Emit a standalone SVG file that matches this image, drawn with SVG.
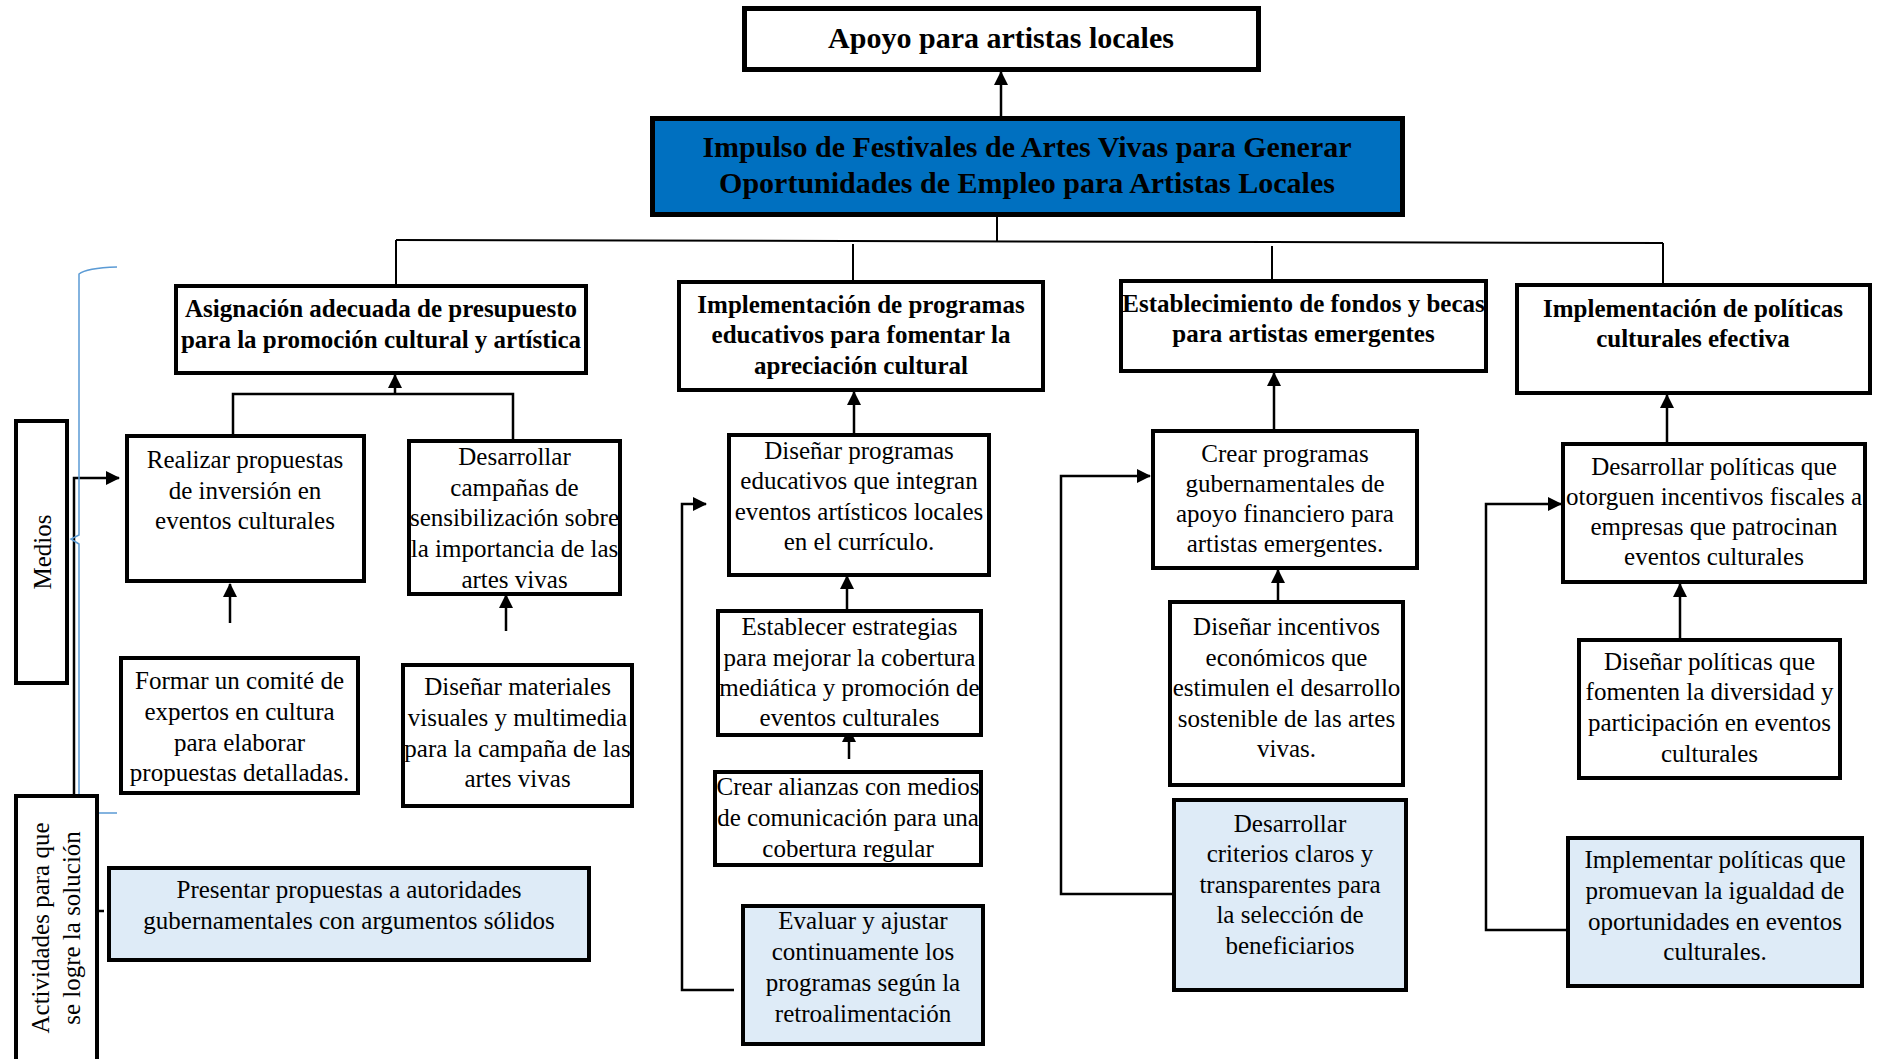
<svg xmlns="http://www.w3.org/2000/svg" width="1878" height="1059" viewBox="0 0 1878 1059">
<style>
.box{fill:#ffffff;stroke:#000000;stroke-width:4}
.act{fill:#deebf7;stroke:#000000;stroke-width:4}
.top{fill:#ffffff;stroke:#000000;stroke-width:5}
.core{fill:#0070c0;stroke:#000000;stroke-width:5}
.t{font-family:"Liberation Serif","Times New Roman",serif;font-size:25px;fill:#000;text-anchor:middle}
.b{font-family:"Liberation Serif","Times New Roman",serif;font-size:25px;font-weight:bold;fill:#000;text-anchor:middle}
.h{font-family:"Liberation Serif","Times New Roman",serif;font-size:30px;font-weight:bold;fill:#000;text-anchor:middle}
.c{fill:none;stroke:#000;stroke-width:2.5}
.thin{fill:none;stroke:#000;stroke-width:2}
.ar{fill:none;stroke:#000;stroke-width:2.5;marker-end:url(#ah)}
</style>
<defs>
<marker id="ah" markerUnits="userSpaceOnUse" markerWidth="14" markerHeight="14" refX="13" refY="7" orient="auto">
<path d="M0,0 L14,7 L0,14 z" fill="#000"/>
</marker>
</defs>
<rect x="0" y="0" width="1878" height="1059" fill="#ffffff"/>

<g id="connectors">
<line class="ar" x1="1001" y1="116" x2="1001" y2="72"/>
<line class="thin" x1="997" y1="217" x2="997" y2="242"/>
<line class="thin" x1="396" y1="240" x2="1663" y2="243"/>
<line class="thin" x1="396" y1="240" x2="396" y2="284"/>
<line class="thin" x1="853" y1="244" x2="853" y2="280"/>
<line class="thin" x1="1272" y1="246" x2="1272" y2="279"/>
<line class="thin" x1="1663" y1="243" x2="1663" y2="283"/>
<polyline class="c" points="233,434 233,394 513,394 513,439"/>
<line class="ar" x1="395" y1="394" x2="395" y2="375"/>
<line class="ar" x1="230" y1="623" x2="230" y2="584"/>
<line class="ar" x1="506" y1="631" x2="506" y2="595"/>
<polyline class="ar" points="74,794 74,478 119,478"/>
<line class="c" x1="99" y1="911" x2="104" y2="911"/>
<line class="ar" x1="854" y1="433" x2="854" y2="392"/>
<line class="ar" x1="847" y1="609" x2="847" y2="576"/>
<line class="ar" x1="849" y1="759" x2="849" y2="729"/>
<polyline class="ar" points="734,990 682,990 682,504 706,504"/>
<line class="ar" x1="1274" y1="429" x2="1274" y2="373"/>
<line class="ar" x1="1278" y1="600" x2="1278" y2="570"/>
<polyline class="ar" points="1172,894 1061,894 1061,476 1150,476"/>
<line class="ar" x1="1667" y1="442" x2="1667" y2="395"/>
<line class="ar" x1="1680" y1="640" x2="1680" y2="584"/>
<polyline class="ar" points="1571,930 1486,930 1486,504 1561,504"/>
<path d="M117,267 Q86,268 79,274 L79,535 L71,539 L79,544 L79,813 L117,813" fill="none" stroke="#5b9bd5" stroke-width="1.5"/>
</g>

<g id="apoyo"><rect class="top" x="744.5" y="8.5" width="514" height="61"/>
<text class="h" x="1001" y="48">Apoyo para artistas locales</text></g>

<g id="impulso"><rect class="core" x="652.5" y="118.5" width="750" height="96"/>
<text class="h" x="1027" y="157">Impulso de Festivales de Artes Vivas para Generar</text>
<text class="h" x="1027" y="193">Oportunidades de Empleo para Artistas Locales</text></g>

<g id="asignacion"><rect class="box" x="176" y="286" width="410" height="87"/>
<text class="b" x="381" y="317">Asignación adecuada de presupuesto</text>
<text class="b" x="381" y="348">para la promoción cultural y artística</text></g>

<g id="impl-prog"><rect class="box" x="679" y="282" width="364" height="108"/>
<text class="b" x="861" y="313">Implementación de programas</text>
<text class="b" x="861" y="343">educativos para fomentar la</text>
<text class="b" x="861" y="374">apreciación cultural</text></g>

<g id="estab"><rect class="box" x="1121" y="281" width="365" height="90"/>
<text class="b" x="1303.5" y="312">Establecimiento de fondos y becas</text>
<text class="b" x="1303.5" y="342">para artistas emergentes</text></g>

<g id="impl-pol"><rect class="box" x="1517" y="285" width="353" height="108"/>
<text class="b" x="1693" y="317">Implementación de políticas</text>
<text class="b" x="1693" y="347">culturales efectiva</text></g>

<g id="medios"><rect class="box" x="16" y="421" width="51" height="262"/>
<text class="t" transform="translate(51,552) rotate(-90)">Medios</text></g>

<g id="actividades"><rect class="box" x="16" y="796" width="81" height="275"/>
<text class="t" transform="translate(49,928) rotate(-90)">Actividades para que</text>
<text class="t" transform="translate(80,928) rotate(-90)">se logre la solución</text></g>

<g id="realizar"><rect class="box" x="127" y="436" width="237" height="145"/>
<text class="t" x="245" y="468">Realizar propuestas</text>
<text class="t" x="245" y="499">de inversión en</text>
<text class="t" x="245" y="529">eventos culturales</text></g>

<g id="desarrollar-campanas"><rect class="box" x="409" y="441" width="211" height="153"/>
<text class="t" x="514.5" y="465">Desarrollar</text>
<text class="t" x="514.5" y="496">campañas de</text>
<text class="t" x="514.5" y="526">sensibilización sobre</text>
<text class="t" x="514.5" y="557">la importancia de las</text>
<text class="t" x="514.5" y="588">artes vivas</text></g>

<g id="formar"><rect class="box" x="121" y="658" width="237" height="135"/>
<text class="t" x="239.5" y="689">Formar un comité de</text>
<text class="t" x="239.5" y="720">expertos en cultura</text>
<text class="t" x="239.5" y="751">para elaborar</text>
<text class="t" x="239.5" y="781">propuestas detalladas.</text></g>

<g id="disenar-materiales"><rect class="box" x="403" y="665" width="229" height="141"/>
<text class="t" x="517.5" y="695">Diseñar materiales</text>
<text class="t" x="517.5" y="726">visuales y multimedia</text>
<text class="t" x="517.5" y="757">para la campaña de las</text>
<text class="t" x="517.5" y="787">artes vivas</text></g>

<g id="presentar"><rect class="act" x="109" y="868" width="480" height="92"/>
<text class="t" x="349" y="898">Presentar propuestas a autoridades</text>
<text class="t" x="349" y="929">gubernamentales con argumentos sólidos</text></g>

<g id="disenar-programas"><rect class="box" x="729" y="435" width="260" height="140"/>
<text class="t" x="859" y="459">Diseñar programas</text>
<text class="t" x="859" y="489">educativos que integran</text>
<text class="t" x="859" y="520">eventos artísticos locales</text>
<text class="t" x="859" y="550">en el currículo.</text></g>

<g id="establecer"><rect class="box" x="718" y="611" width="263" height="124"/>
<text class="t" x="849.5" y="635">Establecer estrategias</text>
<text class="t" x="849.5" y="666">para mejorar la cobertura</text>
<text class="t" x="849.5" y="696">mediática y promoción de</text>
<text class="t" x="849.5" y="726">eventos culturales</text></g>

<g id="crear-alianzas"><rect class="box" x="715" y="772" width="266" height="93"/>
<text class="t" x="848" y="795">Crear alianzas con medios</text>
<text class="t" x="848" y="826">de comunicación para una</text>
<text class="t" x="848" y="857">cobertura regular</text></g>

<g id="evaluar"><rect class="act" x="743" y="906" width="240" height="138"/>
<text class="t" x="863" y="929">Evaluar y ajustar</text>
<text class="t" x="863" y="960">continuamente los</text>
<text class="t" x="863" y="991">programas según la</text>
<text class="t" x="863" y="1022">retroalimentación</text></g>

<g id="crear-programas"><rect class="box" x="1153" y="431" width="264" height="137"/>
<text class="t" x="1285" y="462">Crear programas</text>
<text class="t" x="1285" y="492">gubernamentales de</text>
<text class="t" x="1285" y="522">apoyo financiero para</text>
<text class="t" x="1285" y="552">artistas emergentes.</text></g>

<g id="disenar-incentivos"><rect class="box" x="1170" y="602" width="233" height="183"/>
<text class="t" x="1286.5" y="635">Diseñar incentivos</text>
<text class="t" x="1286.5" y="666">económicos que</text>
<text class="t" x="1286.5" y="696">estimulen el desarrollo</text>
<text class="t" x="1286.5" y="727">sostenible de las artes</text>
<text class="t" x="1286.5" y="757">vivas.</text></g>

<g id="desarrollar-criterios"><rect class="act" x="1174" y="800" width="232" height="190"/>
<text class="t" x="1290" y="832">Desarrollar</text>
<text class="t" x="1290" y="862">criterios claros y</text>
<text class="t" x="1290" y="893">transparentes para</text>
<text class="t" x="1290" y="923">la selección de</text>
<text class="t" x="1290" y="954">beneficiarios</text></g>

<g id="desarrollar-politicas"><rect class="box" x="1563" y="444" width="302" height="138"/>
<text class="t" x="1714" y="475">Desarrollar políticas que</text>
<text class="t" x="1714" y="505">otorguen incentivos fiscales a</text>
<text class="t" x="1714" y="535">empresas que patrocinan</text>
<text class="t" x="1714" y="565">eventos culturales</text></g>

<g id="disenar-politicas"><rect class="box" x="1579" y="640" width="261" height="138"/>
<text class="t" x="1709.5" y="670">Diseñar políticas que</text>
<text class="t" x="1709.5" y="700">fomenten la diversidad y</text>
<text class="t" x="1709.5" y="731">participación en eventos</text>
<text class="t" x="1709.5" y="762">culturales</text></g>

<g id="implementar"><rect class="act" x="1568" y="838" width="294" height="148"/>
<text class="t" x="1715" y="868">Implementar políticas que</text>
<text class="t" x="1715" y="899">promuevan la igualdad de</text>
<text class="t" x="1715" y="930">oportunidades en eventos</text>
<text class="t" x="1715" y="960">culturales.</text></g>
</svg>
